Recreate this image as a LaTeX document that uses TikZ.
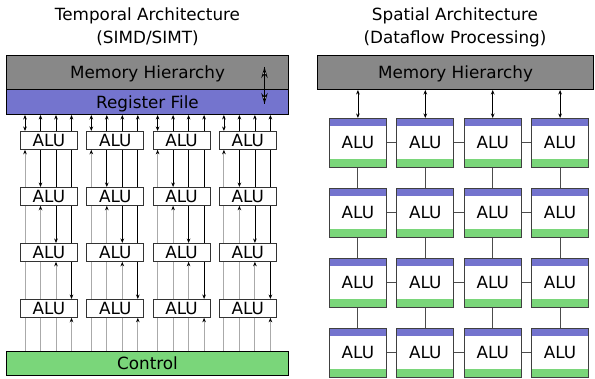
\documentclass[tikz,border=0pt]{standalone}
\usepackage{fontspec}
\setmainfont{DejaVu Sans}
\usetikzlibrary{arrows.meta,calc}
\definecolor{memgray}{RGB}{136,136,136}
\definecolor{regblue}{RGB}{116,116,206}
\definecolor{ctlgreen}{RGB}{122,214,122}
\definecolor{lgray}{RGB}{170,170,170}
\tikzset{
  bigbox/.style={draw=black, line width=1pt, anchor=north west, inner sep=0pt,
    text height=12.2pt, text depth=0pt, font=\fontsize{16.8}{19}\selectfont},
  talu/.style={draw=black!80, line width=0.8pt, fill=white, anchor=north west, inner sep=0pt,
    minimum width=57pt, minimum height=18pt, text height=12.2pt, text depth=0pt,
    font=\fontsize{16.8}{19}\selectfont},
  salu/.style={draw=black!75, line width=0.8pt, fill=white, anchor=north west, inner sep=0pt,
    minimum width=57pt, minimum height=49pt, text height=12.2pt, text depth=0pt,
    font=\fontsize{16.8}{19}\selectfont,
    path picture={
      \fill[regblue] (path picture bounding box.north west) rectangle ([yshift=-8pt]path picture bounding box.north east);
      \fill[ctlgreen] (path picture bounding box.south west) rectangle ([yshift=8pt]path picture bounding box.south east);
    }},
  title/.style={anchor=base, font=\fontsize{16.8}{19}\selectfont, inner sep=0pt},
  bline/.style={draw=black, line width=0.8pt},
  gline/.style={draw=lgray, line width=0.9pt},
  tipdown/.style={-{Stealth[length=4.5pt,width=3.6pt,color=black]}},
  tipup/.style={{Stealth[length=4.5pt,width=3.6pt,color=black]}-},
  tipboth/.style={{Stealth[length=4.5pt,width=3.6pt,color=black]}-{Stealth[length=4.5pt,width=3.6pt,color=black]}},
  conn/.style={draw=black!70, line width=0.9pt},
  wtip/.style={{Stealth[length=11pt,width=6.5pt,fill=white,line width=0.7pt]}-{Stealth[length=11pt,width=6.5pt,fill=white,line width=0.7pt]}},
}
\begin{document}
\begin{tikzpicture}[x=1pt,y=-1pt]
\useasboundingbox (0,0) rectangle (595,379);

% ---------- titles ----------
\node[title] (tt1) at (147.5,21) {Temporal Architecture};
\node[title] (tt2) at (147.5,44) {(SIMD/SIMT)};
\node[title] (st1) at (455,21) {Spatial Architecture};
\node[title] (st2) at (455,44) {(Dataflow Processing)};

% ---------- temporal ----------
\node[bigbox, fill=memgray, minimum width=282pt, minimum height=34pt] (memL) at (6,55) {Memory Hierarchy};
\node[bigbox, fill=regblue, minimum width=282pt, minimum height=25pt] (reg) at (6,89) {Register File};
\node[bigbox, fill=ctlgreen, minimum width=282pt, minimum height=24pt] (ctl) at (6,351) {Control};

\foreach \c in {0,...,3}{
  \foreach \r/\y in {1/131,2/187,3/243,4/299}{
    \node[talu] (t\r\c) at ({20+66.3*\c},\y) {ALU};
  }
}

\coordinate (mra) at (264.5,67);
\coordinate (mrb) at (264.5,104);
\draw[line width=0.8pt, wtip] (mra) -- (mrb);
\draw[line width=1pt] (mra) -- (mrb);

\foreach \c in {0,...,3}{
  % register file -> row 1
  \foreach \k in {1,...,4}{
    \pgfmathsetmacro\xo{5+15.5*(\k-1)}
    \coordinate (p) at ($(t1\c.north west)+(\xo,0)$);
    \ifnum\k=1
      \draw[bline,tipboth] (p |- reg.south) -- (p);
    \else
      \draw[bline,tipup] (p |- reg.south) -- (p);
    \fi
  }
  % between rows
  \foreach \g in {1,2,3}{
    \pgfmathtruncatemacro\n{\g+1}
    \foreach \k in {1,...,4}{
      \pgfmathsetmacro\xo{5+15.5*(\k-1)}
      \coordinate (p) at ($(t\g\c.south west)+(\xo,0)$);
      \ifnum\k<\g \draw[gline] (p) -- (p |- t\n\c.north);\fi
      \ifnum\k=\g \draw[gline,tipup] (p) -- (p |- t\n\c.north);\fi
      \pgfmathtruncatemacro\m{\g+1}
      \ifnum\k=\m \draw[bline,tipdown] (p) -- (p |- t\n\c.north);\fi
      \ifnum\k>\m \draw[bline] (p) -- (p |- t\n\c.north);\fi
    }
  }
  % row 4 -> control
  \foreach \k in {1,...,4}{
    \pgfmathsetmacro\xo{5+15.5*(\k-1)}
    \coordinate (p) at ($(t4\c.south west)+(\xo,0)$);
    \ifnum\k=4
      \draw[gline,tipup] (p) -- (p |- ctl.north);
    \else
      \draw[gline] (p) -- (p |- ctl.north);
    \fi
  }
}

% ---------- spatial ----------
\node[bigbox, fill=memgray, minimum width=276pt, minimum height=34pt] (memR) at (317,55) {Memory Hierarchy};

\foreach \c in {0,...,3}{
  \foreach \r in {0,...,3}{
    \node[salu] (s\r\c) at ({329+67.4*\c},{118+70*\r}) {ALU};
  }
  \draw[line width=0.8pt, tipboth] (s0\c.north |- memR.south) -- (s0\c.north);
}
\foreach \r in {0,...,3}{
  \foreach \c/\n in {0/1,1/2,2/3}{
    \draw[conn] (s\r\c.east) -- (s\r\n.west);
  }
}
\foreach \c in {0,...,3}{
  \foreach \r/\n in {0/1,1/2,2/3}{
    \draw[conn] (s\r\c.south) -- (s\n\c.north);
  }
}
\end{tikzpicture}
\end{document}
